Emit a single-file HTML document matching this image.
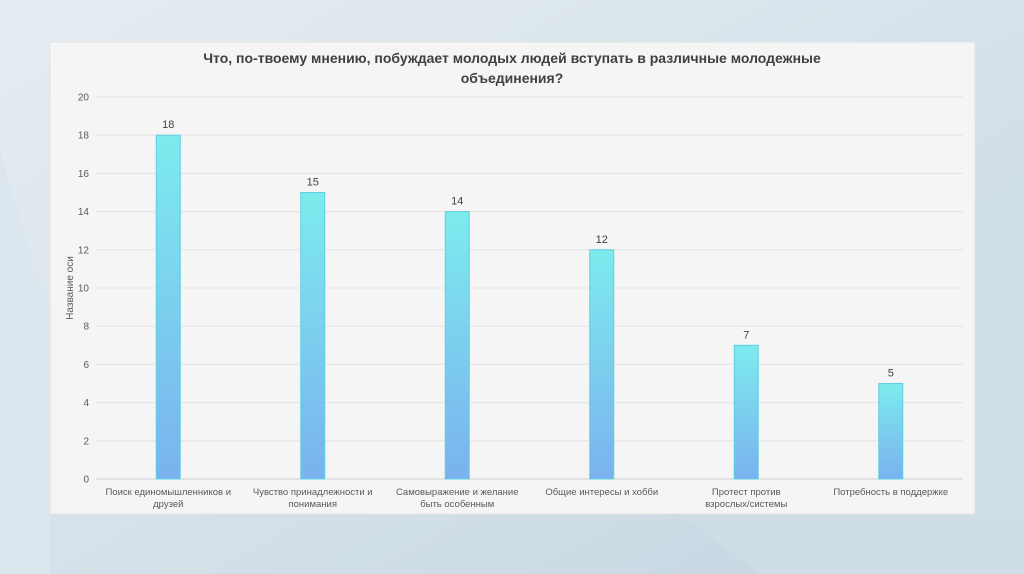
<!DOCTYPE html>
<html><head><meta charset="utf-8"><style>
html,body{margin:0;padding:0;width:1024px;height:574px;overflow:hidden;font-family:"Liberation Sans","Noto Sans CJK SC",sans-serif;}
</style></head><body>
<svg id="s" width="1024" height="574" xmlns="http://www.w3.org/2000/svg">
<defs>
<linearGradient id="bg" x1="0" y1="0" x2="1" y2="1"><stop offset="0" stop-color="#e6edf2"/><stop offset="0.5" stop-color="#d6e2ea"/><stop offset="1" stop-color="#c4d5e0"/></linearGradient>
<linearGradient id="bar" x1="0" y1="0" x2="0" y2="1"><stop offset="0" stop-color="#7debee"/><stop offset="1" stop-color="#7ab2ef"/></linearGradient>
</defs>
<rect width="1024" height="574" fill="url(#bg)"/>
<polygon points="0,150 50,320 50,574 0,574" fill="#dbe6ee"/>
<polygon points="680,514 760,574 1024,574 1024,514" fill="#cfdde7"/>
<polygon points="975,230 1024,150 1024,514 975,514" fill="#d0dfe8"/>
<rect x="50" y="42" width="925" height="472" fill="#f5f5f5" stroke="#e2e2e2"/>
<text x="512" y="63" text-anchor="middle" font-size="14" font-weight="bold" fill="#404040">Что, по-твоему мнению, побуждает молодых людей вступать в различные молодежные</text>
<text x="512" y="83" text-anchor="middle" font-size="14" font-weight="bold" fill="#404040">объединения?</text>
<text transform="translate(73,288) rotate(-90)" text-anchor="middle" font-size="10" fill="#595959">Название оси</text>
<g id="grid"></g><g id="bars"></g>
</svg>
<script>
const categories=[["Поиск единомышленников и","друзей"],["Чувство принадлежности и","понимания"],["Самовыражение и желание","быть особенным"],["Общие интересы и хобби"],["Протест против","взрослых/системы"],["Потребность в поддержке"]];
const values=[18,15,14,12,7,5];
const yTicks=[0,2,4,6,8,10,12,14,16,18,20];
const NS="http://www.w3.org/2000/svg";
const x0=96,x1=963,y0=479,y1=97,yMax=20;
const y=v=>y0-(y0-y1)*v/yMax;
const bw=(x1-x0)/categories.length;
const xc=i=>x0+bw*(i+0.5);
function mk(t,a,p){const e=document.createElementNS(NS,t);for(const k in a)e.setAttribute(k,a[k]);p.appendChild(e);return e;}
const g=document.getElementById('grid'),b=document.getElementById('bars');
yTicks.forEach(v=>{
 const l=mk('line',{x1:x0,x2:x1,y1:y(v),y2:y(v),stroke:v===0?'#d0d0d0':'#e4e4e4','stroke-width':1},g);
 
 
 const t=mk('text',{x:89,y:y(v)+3.5,'text-anchor':'end','font-size':10,fill:'#595959'},g);
 t.textContent=v;
 
 
});
values.forEach((v,i)=>{
 const r=mk('rect',{x:xc(i)-12,y:y(v),width:24,height:y0-y(v),fill:'url(#bar)',stroke:'#5ccfe0','stroke-width':1},b);
 
 
 const t=mk('text',{x:xc(i),y:y(v)-7,'text-anchor':'middle','font-size':11,fill:'#404040'},b);
 t.textContent=v;
 
 
 categories[i].forEach((s,j)=>{
  const c=mk('text',{x:xc(i),y:495+j*12,'text-anchor':'middle','font-size':9.5,fill:'#595959'},b);
  c.textContent=s;
  
  
 });
});
</script>
</body></html>
